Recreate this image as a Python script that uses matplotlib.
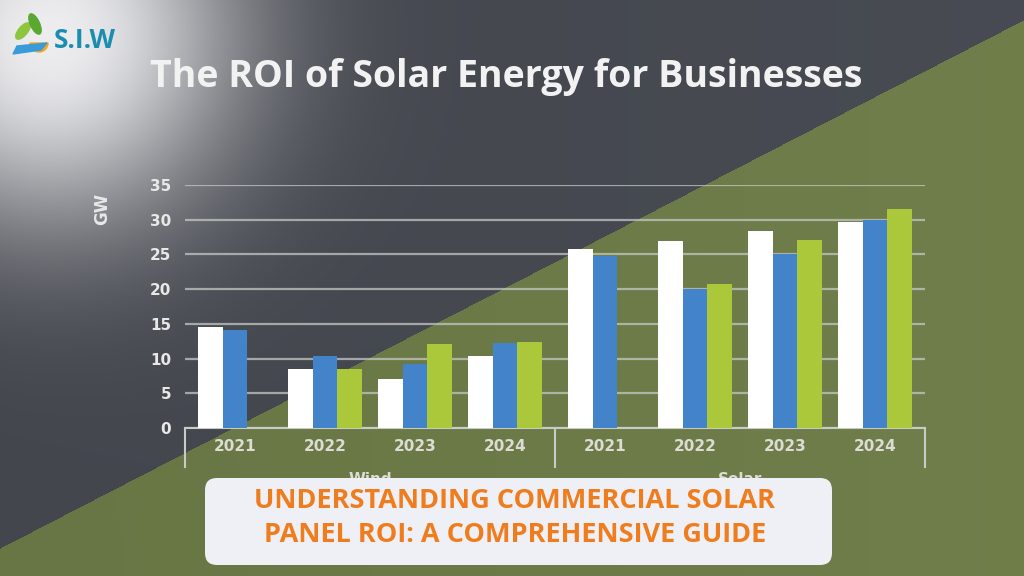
import numpy as np
import matplotlib
matplotlib.use("Agg")
import matplotlib.pyplot as plt
from matplotlib.patches import FancyBboxPatch, Ellipse, Wedge, Polygon
from matplotlib.transforms import blended_transform_factory

# data (GW)
years = ["2021", "2022", "2023", "2024"]
groups = ["Wind", "Solar"]
white_vals = [14.6, 8.5, 7.0, 10.4, 25.8, 26.9, 28.4, 29.6]
blue_vals = [14.1, 10.4, 9.2, 12.2, 24.8, 20.0, 25.1, 30.0]
green_vals = [np.nan, 8.5, 12.1, 12.4, np.nan, 20.7, 27.1, 31.5]
yticks = [0, 5, 10, 15, 20, 25, 30, 35]

W, H = 1024, 576
fig = plt.figure(figsize=(W / 100, H / 100), dpi=100)

# background: dark slate, green diagonal, white glow top-left
yy, xx = np.mgrid[0:H, 0:W]
dark = np.array([0x43, 0x46, 0x4d]) / 255
green = np.array([0x68, 0x76, 0x45]) / 255
img = np.ones((H, W, 3)) * dark
mask = yy > 548 - 0.516 * xx
img[mask] = green
shade = 1 + 0.07 * (xx / W)  # a touch lighter to the right
img = np.clip(img * shade[..., None], 0, 1)
d = np.sqrt((xx - 50) ** 2 + (yy - 35) ** 2)
glow = 0.97 * np.exp(-(d / 190) ** 2.2)
img = img * (1 - glow[..., None]) + np.array([0.95, 0.95, 0.96]) * glow[..., None]

bg = fig.add_axes([0, 0, 1, 1])
bg.imshow(img, extent=[0, W, H, 0], zorder=0)
bg.set_xlim(0, W)
bg.set_ylim(H, 0)
bg.axis("off")

# logo
bg.add_patch(Ellipse((23, 31), 9, 20, angle=40, color="#8cc63f", zorder=2))
bg.add_patch(Ellipse((35, 24), 9, 22, angle=-25, color="#5aa832", zorder=2))
bg.add_patch(Wedge((39, 43), 9, 0, 180, color="#f5a623", zorder=2))
bg.add_patch(Polygon([(17, 46), (47, 43), (41, 50), (13, 54)], color="#3a9bd9", zorder=3))
bg.text(54, 41, "S.I.W", fontsize=19, fontweight="bold", color="#1b8eb0",
        va="center", ha="left", family="Open Sans", zorder=3)

# title
bg.text(506, 77, "The ROI of Solar Energy for Businesses", fontsize=27,
        fontweight="bold", color="#f2f2f2", ha="center", va="center",
        family="Open Sans", zorder=3)

# chart
ax = fig.add_axes([185 / W, 1 - 428 / H, 740 / W, 243 / H])
ax.patch.set_alpha(0)
pos = np.array([0, 1, 2, 3, 4.111, 5.111, 6.111, 7.111])
bw = 0.272
ax.bar(pos - bw, white_vals, bw, color="white", zorder=3)
ax.bar(pos, blue_vals, bw, color="#4383c9", zorder=3)
ax.bar(pos + bw, green_vals, bw, color="#aac83a", zorder=3)
ax.set_xlim(-0.556, 7.667)
ax.set_ylim(0, 35)
ax.set_yticks(yticks)
ax.set_yticklabels([str(t) for t in yticks], fontsize=11, color="#e8e8e8",
                   fontweight="bold")
ax.tick_params(axis="y", length=0, pad=10)
ax.tick_params(axis="x", length=0)
ax.set_xticks([])
ax.grid(axis="y", color="#c4c8c4", linewidth=1.6, alpha=0.75, zorder=1)
for s in ["top", "right", "left"]:
    ax.spines[s].set_visible(False)
ax.spines["bottom"].set_color("#c8ccc4")
ax.spines["bottom"].set_linewidth(1.5)
ax.set_ylabel("GW", fontsize=12, color="#e8e8e8", fontweight="bold")
ax.yaxis.set_label_coords(-0.1, 0.9)

tr = blended_transform_factory(ax.transData, ax.transAxes)
for xv in [-0.556, 3.556, 7.667]:
    ax.plot([xv, xv], [0, -0.16], transform=tr, color="#c8ccc4", lw=1.5,
            clip_on=False)
for i, p in enumerate(pos):
    ax.text(p, -0.078, years[i % 4], transform=tr, ha="center", va="center",
            fontsize=11, color="#dcdcd4", fontweight="bold")
ax.text(1.5, -0.21, groups[0], transform=tr, ha="center", va="center",
        fontsize=11, color="#dcdcd4", fontweight="bold")
ax.text(5.611, -0.21, groups[1], transform=tr, ha="center", va="center",
        fontsize=11, color="#dcdcd4", fontweight="bold")

# banner on top
ov = fig.add_axes([0, 0, 1, 1])
ov.set_xlim(0, W)
ov.set_ylim(H, 0)
ov.axis("off")
ov.add_patch(FancyBboxPatch((211, 484), 615, 75, boxstyle="round,pad=6,rounding_size=12",
                            facecolor="#eef0f6", edgecolor="none", zorder=2))
ov.text(515, 501, "UNDERSTANDING COMMERCIAL SOLAR", fontsize=19.5, fontweight="bold",
        color="#ef7c1d", ha="center", va="center", family="Open Sans", zorder=3)
ov.text(515, 535, "PANEL ROI: A COMPREHENSIVE GUIDE", fontsize=19.5, fontweight="bold",
        color="#ef7c1d", ha="center", va="center", family="Open Sans", zorder=3)

fig.savefig("out.png", dpi=100)
